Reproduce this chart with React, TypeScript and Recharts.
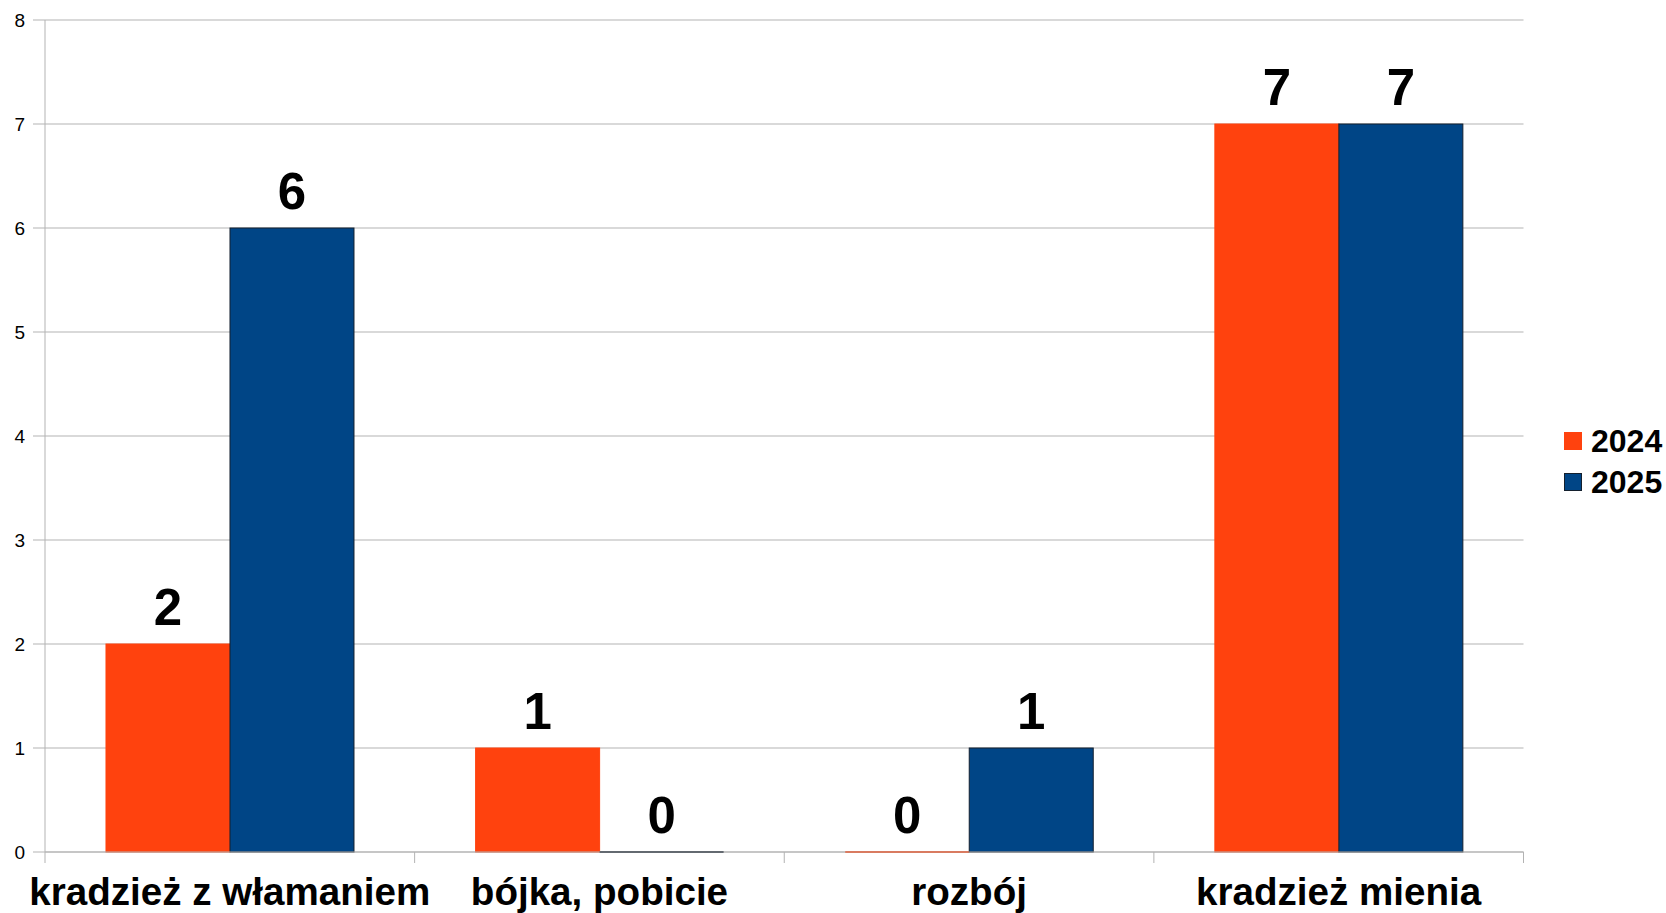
import React from 'react';
import { BarChart, Bar, XAxis, YAxis, CartesianGrid, Legend, LabelList } from 'recharts';

// Chart data
const CATEGORIES = ['kradzież z włamaniem', 'bójka, pobicie', 'rozbój', 'kradzież mienia'];
const VALUES_2024 = [2, 1, 0, 7];
const VALUES_2025 = [6, 0, 1, 7];
const Y_TICKS = [0, 1, 2, 3, 4, 5, 6, 7, 8];
const SERIES = [
  { key: 'y2024', name: '2024', color: '#ff420e', stroke: '#ff420e' },
  { key: 'y2025', name: '2025', color: '#004586', stroke: '#14202e' },
];

const data = CATEGORIES.map((c, i) => ({ name: c, y2024: VALUES_2024[i], y2025: VALUES_2025[i] }));

const W = 1666;
const H = 913;
const LEFT = 45;
const RIGHT_MARGIN = 142.5;
const BAND = (W - LEFT - RIGHT_MARGIN) / CATEGORIES.length;
const GRID = '#b3b3b3';
const FONT = '"Liberation Sans", Arial, sans-serif';

const CategoryTick = (props: any) => {
  const { x, y, payload, index } = props;
  const half = BAND / 2;
  return (
    <g>
      <line x1={x - half} x2={x - half} y1={y - 11} y2={y} stroke={GRID} />
      {index === CATEGORIES.length - 1 && (
        <line x1={x + half} x2={x + half} y1={y - 11} y2={y} stroke={GRID} />
      )}
      <text x={x} y={y + 42} textAnchor="middle" fontSize={38.6} fontWeight="bold" fill="#000" fontFamily={FONT}>
        {payload.value}
      </text>
    </g>
  );
};

const barShape = (stroke: string) => (props: any) => {
  const { x, y, width, height, fill } = props;
  if (!height) {
    return <line x1={x} x2={x + width} y1={y} y2={y} stroke={stroke} strokeWidth={2} />;
  }
  return <rect x={x} y={y} width={width} height={height} fill={fill} stroke={stroke} strokeWidth={1} />;
};

const LegendBox = () => (
  <div style={{ fontFamily: FONT }}>
    {SERIES.map(s => (
      <div key={s.key} style={{ display: 'flex', alignItems: 'center', height: 41 }}>
        <span
          style={{
            display: 'inline-block',
            width: 18,
            height: 18,
            background: s.color,
            border: `1px solid ${s.key === 'y2025' ? '#14202e' : s.color}`,
            boxSizing: 'border-box',
            marginRight: 9,
          }}
        />
        <span style={{ fontSize: 32, fontWeight: 'bold', color: '#000', lineHeight: '41px' }}>{s.name}</span>
      </div>
    ))}
  </div>
);

export default function App() {
  return (
    <div style={{ position: 'absolute', left: 0, top: 0, width: W, height: H, background: '#fff' }}>
      <BarChart
        width={W}
        height={H}
        data={data}
        margin={{ top: 20, right: RIGHT_MARGIN, bottom: 0, left: 0 }}
        barCategoryGap="16.5%"
        barGap={0}
      >
        <CartesianGrid vertical={false} stroke={GRID} />
        <XAxis
          dataKey="name"
          height={61}
          interval={0}
          tickLine={false}
          tickSize={11}
          tickMargin={0}
          axisLine={{ stroke: GRID }}
          tick={<CategoryTick />}
        />
        <YAxis
          width={45}
          domain={[0, 8]}
          ticks={Y_TICKS}
          tickSize={12}
          tickMargin={8}
          tickLine={{ stroke: GRID }}
          axisLine={{ stroke: GRID }}
          tick={{ fill: '#000', fontSize: 19, fontFamily: FONT }}
        />
        <YAxis
          yAxisId="right"
          orientation="right"
          width={0}
          tick={false}
          tickLine={false}
          axisLine={{ stroke: GRID }}
          domain={[0, 8]}
        />
        <Legend
          layout="vertical"
          align="center"
          verticalAlign="middle"
          content={<LegendBox />}
          wrapperStyle={{ left: 1564, top: 420.5, width: 102 }}
        />
        {SERIES.map(s => (
          <Bar
            key={s.key}
            dataKey={s.key}
            name={s.name}
            fill={s.color}
            shape={barShape(s.stroke)}
            isAnimationActive={false}
          >
            <LabelList
              dataKey={s.key}
              position="top"
              offset={19}
              fill="#000"
              fontSize={51}
              fontWeight="bold"
              fontFamily={FONT}
            />
          </Bar>
        ))}
      </BarChart>
    </div>
  );
}
